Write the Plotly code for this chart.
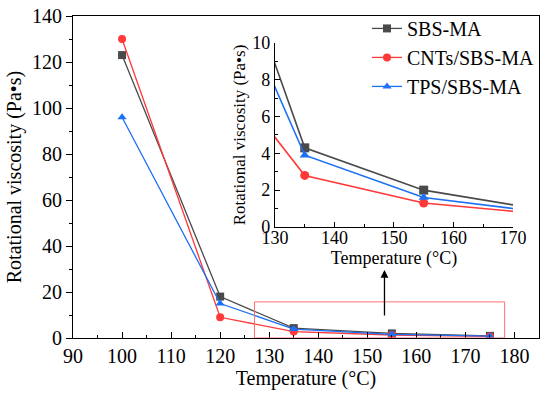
import plotly.graph_objects as go

temps = [100, 120, 135, 155, 175]
sbs_ma = [123, 18, 4.3, 2.0, 0.93]
cnts_sbs_ma = [130, 9, 2.8, 1.3, 0.7]
tps_sbs_ma = [96, 15, 3.9, 1.6, 0.8]

series = [
    ("SBS-MA", sbs_ma, "#4a4a4a", "square"),
    ("CNTs/SBS-MA", cnts_sbs_ma, "#ff3838", "circle"),
    ("TPS/SBS-MA", tps_sbs_ma, "#1c70f5", "triangle-up"),
]

FONT = "Liberation Serif, Times New Roman, serif"

fig = go.Figure()
for name, vals, color, sym in series:
    fig.add_trace(go.Scatter(x=temps, y=vals, name=name, mode="lines+markers",
                             line=dict(color=color, width=1.3),
                             marker=dict(symbol=sym, size=8, color=color),
                             xaxis="x", yaxis="y"))
for name, vals, color, sym in series:
    fig.add_trace(go.Scatter(x=temps, y=vals, name=name, mode="lines+markers",
                             line=dict(color=color, width=1.6),
                             marker=dict(symbol=sym, size=9, color=color),
                             xaxis="x2", yaxis="y2", showlegend=False, cliponaxis=True))

def ax(size, ticks="inside"):
    return dict(showline=True, linecolor="black", linewidth=1.2, showgrid=False,
                zeroline=False, ticks=ticks, tickcolor="black", automargin=False,
                tickfont=dict(family=FONT, size=size, color="black"))

fig.update_layout(
    width=550, height=393,
    margin=dict(l=73, r=11, t=16, b=55, autoexpand=False),
    plot_bgcolor="white", paper_bgcolor="white",
    font=dict(family=FONT, color="black"),
    xaxis=dict(**ax(20), range=[90, 185], tickvals=list(range(90, 181, 10)),
               ticklen=6, mirror=True,
               minor=dict(ticks="inside", ticklen=3, dtick=5, tickcolor="black"),
               title=dict(text="Temperature (°C)", font=dict(family=FONT, size=20), standoff=2)),
    yaxis=dict(**ax(20, "outside"), range=[0, 140], dtick=20, ticklen=6, mirror=True,
               minor=dict(ticks="outside", ticklen=3, dtick=10, tickcolor="black"),
               title=dict(text="Rotational viscosity (Pa•s)", font=dict(family=FONT, size=20), standoff=4)),
    xaxis2=dict(**ax(18), domain=[0.4335, 0.944], anchor="y2", range=[130, 170], dtick=10, ticklen=5,
                ticklabelstandoff=-6,
                minor=dict(ticks="inside", ticklen=3, dtick=5, tickcolor="black"),
                title=dict(text="Temperature (°C)", font=dict(family=FONT, size=18), standoff=0)),
    yaxis2=dict(**ax(18), domain=[0.345, 0.916], anchor="x2", range=[0, 10], dtick=2, ticklen=5,
                minor=dict(ticks="inside", ticklen=3, dtick=1, tickcolor="black"),
                title=dict(text="Rotational viscosity (Pa•s)", font=dict(family=FONT, size=17), standoff=2)),
    legend=dict(x=1.0, y=1.022, xanchor="right", yanchor="top", bgcolor="rgba(0,0,0,0)",
                font=dict(family=FONT, size=20), tracegroupgap=0),
    showlegend=True,
)

fig.add_shape(type="rect", xref="x", yref="y", x0=127, x1=178, y0=0, y1=15.7,
              line=dict(color="#ff7070", width=1))
fig.add_annotation(xref="x", yref="y", x=153.5, y=29.6, ax=153.5, ay=9.1,
                   axref="x", ayref="y", showarrow=True, arrowhead=2, arrowsize=1.2,
                   arrowwidth=1.3, arrowcolor="black", text="")

fig.write_html("out.html", post_script="document.body.style.margin='0';",
               config={"displayModeBar": False})
